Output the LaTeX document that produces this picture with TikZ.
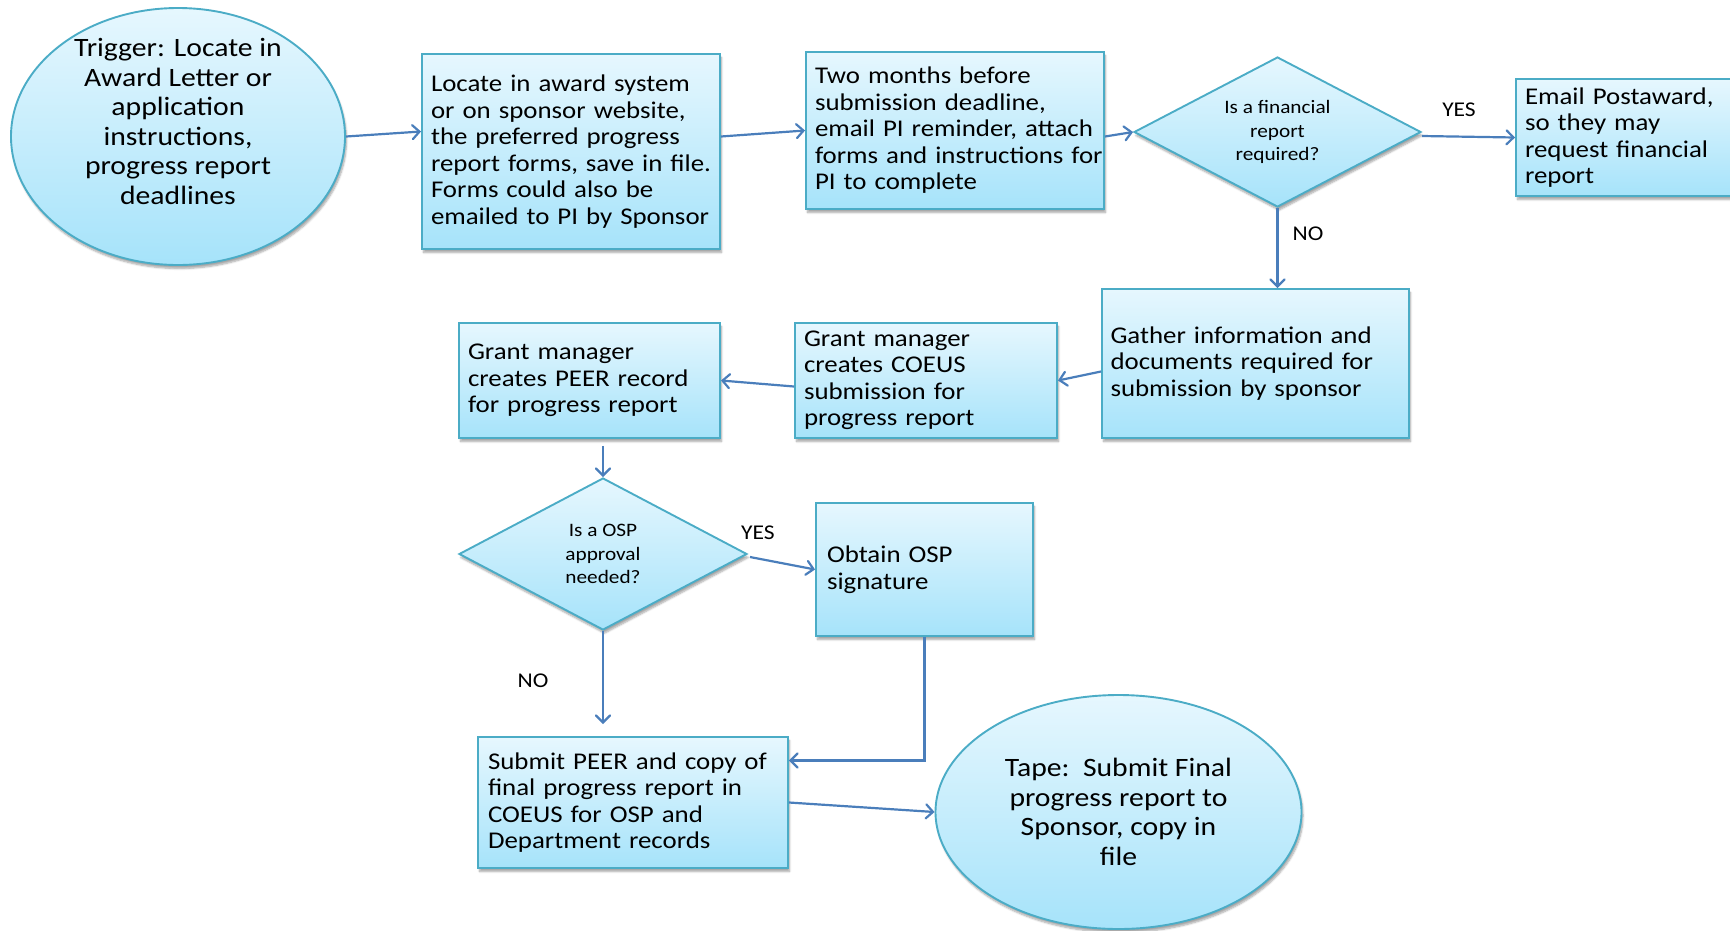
\documentclass[tikz,border=0pt]{standalone}
\usepackage{fontspec}
\setmainfont{Carlito}[FakeStretch=1.12]
\usetikzlibrary{shapes.geometric,arrows.meta,calc,shadows.blur}

\definecolor{edgeteal}{HTML}{4BACC6}
\definecolor{filltop}{HTML}{E6F7FE}
\definecolor{fillbot}{HTML}{A6E3FA}
\definecolor{linkblue}{HTML}{4A7EBB}

\newcommand\boxfont{\fontsize{24}{26.5}\selectfont}
\newcommand\ovalfont{\fontsize{26.5}{29.5}\selectfont}
\newcommand\askfont{\fontsize{19}{23.5}\selectfont}
\newcommand\tagfont{\fontsize{21}{24}\selectfont}
\newcommand\rowtxt[1]{\mbox{#1}}

\begin{document}
\begin{tikzpicture}[x=1pt,y=-1pt,
  base/.style={draw=edgeteal, line width=1.9pt, top color=filltop,
    bottom color=fillbot, inner sep=0pt,
    blur shadow={shadow xshift=1.5pt, shadow yshift=-3.5pt,
      shadow opacity=35, shadow blur steps=6}},
  procbox/.style={base, rectangle, inner xsep=9pt, align=left, font=\boxfont},
  oval/.style={base, ellipse},
  ask/.style={base, diamond, aspect=1.9, align=center, font=\askfont},
  ovaltext/.style={align=center, font=\ovalfont, inner sep=0pt},
  tag/.style={font=\tagfont, inner sep=0pt},
  link/.style={draw=linkblue, line width=2.2pt,
    -{Straight Barb[length=7pt,width=14pt,line cap=round]}}
]
\useasboundingbox (0,0) rectangle (1730,930);

% start and end ovals
\node[oval, minimum width=334pt, minimum height=257pt] (trig) at (178,136.5) {};
\node[ovaltext] (trigtext) at ($(trig.center)+(0,-15)$)
  {Trigger: Locate in\\Award Letter or\\application\\instructions,\\progress report\\deadlines};

\node[oval, minimum width=366pt, minimum height=234pt, align=center, font=\ovalfont]
  (tape) at (1118.5,812)
  {Tape:\ \ Submit Final\\progress report to\\Sponsor, copy in\\file};

% process boxes
\node[procbox, text width=280pt, minimum height=195pt] (loc) at (571,151.5)
  {\rowtxt{Locate in award system}\\\rowtxt{or on sponsor website,}\\\rowtxt{the preferred progress}\\\rowtxt{report forms, save in file.}\\\rowtxt{Forms could also be}\\\rowtxt{emailed to PI by Sponsor}};

\node[procbox, text width=280pt, minimum height=157pt] (two) at (955,130.5)
  {\rowtxt{Two months before}\\\rowtxt{submission deadline,}\\\rowtxt{email PI reminder, attach}\\\rowtxt{forms and instructions for}\\\rowtxt{PI to complete}};

\node[procbox, text width=212pt, minimum height=117pt] (email) at (1631,137.5)
  {\rowtxt{Email Postaward,}\\\rowtxt{so they may}\\\rowtxt{request financial}\\\rowtxt{report}};

\node[procbox, text width=290pt, minimum height=149pt, inner xsep=8.5pt] (gather) at (1255.5,363.5)
  {\rowtxt{Gather information and}\\\rowtxt{documents required for}\\\rowtxt{submission by sponsor}};

\node[procbox, text width=244pt, minimum height=115pt] (coeus) at (926,380.5)
  {\rowtxt{Grant manager}\\\rowtxt{creates COEUS}\\\rowtxt{submission for}\\\rowtxt{progress report}};

\node[procbox, text width=243pt, minimum height=115pt] (peer) at (589.5,380.5)
  {\rowtxt{Grant manager}\\\rowtxt{creates PEER record}\\\rowtxt{for progress report}};

\node[procbox, text width=195pt, minimum height=133pt, inner xsep=11pt] (obtain) at (924.5,569.5)
  {\rowtxt{Obtain OSP}\\\rowtxt{signature}};

\node[procbox, text width=290pt, minimum height=131pt, inner xsep=10pt] (submit) at (633,802.5)
  {\rowtxt{Submit PEER and copy of}\\\rowtxt{final progress report in}\\\rowtxt{COEUS for OSP and}\\\rowtxt{Department records}};

% decisions
\node[ask, minimum width=287pt, minimum height=150pt] (fin) at (1277.5,132)
  {Is a financial\\report\\required?};
\node[ask, minimum width=288pt, minimum height=152pt] (osp) at (603,554)
  {Is a OSP\\approval\\needed?};

% branch labels
\node[tag] (yesfin) at (1459,110) {YES};
\node[tag] (nofin) at (1308,234) {NO};
\node[tag] (yesosp) at (758,533) {YES};
\node[tag] (noosp) at (533,681) {NO};

% connectors
\draw[link] (trig.east) -- ([yshift=20pt]loc.west);
\draw[link] ([yshift=15pt]loc.east) -- (two.west);
\draw[link] ([yshift=-6pt]two.east) -- (fin.west);
\draw[link] ([yshift=-4pt]fin.east) -- (email.west);
\draw[link] (fin.south) -- (fin.south |- gather.north);
\draw[link] ([yshift=-8pt]gather.west) -- (coeus.east);
\draw[link] ([yshift=-6pt]coeus.west) -- (peer.east);
\coordinate (peerout) at ($(osp.north |- peer.south)+(0,7)$);
\draw[link] (peerout) -- (osp.north);
\draw[link] ([xshift=2pt,yshift=-3pt]osp.east) -- (obtain.west);
\coordinate (submitin) at ($(osp.south |- submit.north)+(0,-12)$);
\draw[link] (osp.south) -- (submitin);
\draw[link] (obtain.south) |- ([yshift=42pt]submit.east);
\draw[link] (submit.east) -- (tape.west);
\end{tikzpicture}
\end{document}
